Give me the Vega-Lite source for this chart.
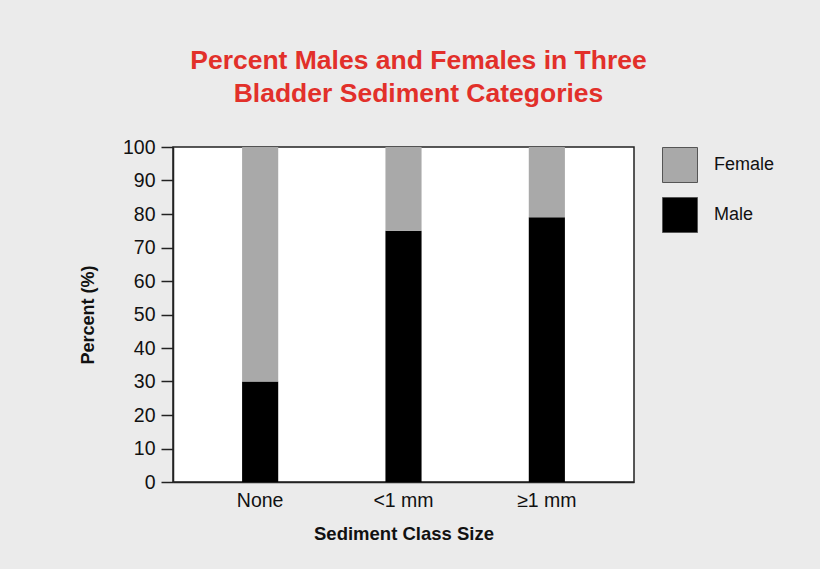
{
  "$schema": "https://vega.github.io/schema/vega-lite/v6.json",
  "width": 461,
  "height": 335,
  "autosize": {"type": "none"},
  "padding": {"left": 173, "top": 147, "right": 186, "bottom": 87},
  "background": "#ebebeb",
  "title": {
    "text": ["Percent Males and Females in Three", "Bladder Sediment Categories"],
    "font": "Liberation Sans",
    "fontSize": 26.5,
    "fontWeight": "bold",
    "color": "#e2302a",
    "lineHeight": 33,
    "anchor": "middle",
    "dx": 15,
    "offset": 30
  },
  "config": {
    "font": "Liberation Sans",
    "view": {"stroke": "#222", "strokeWidth": 1.5, "fill": "white"}
  },
  "data": {
    "values": [
      {"size": "None", "sex": "Male", "percent": 30},
      {"size": "None", "sex": "Female", "percent": 70},
      {"size": "<1 mm", "sex": "Male", "percent": 75},
      {"size": "<1 mm", "sex": "Female", "percent": 25},
      {"size": "≥1 mm", "sex": "Male", "percent": 79},
      {"size": "≥1 mm", "sex": "Female", "percent": 21}
    ]
  },
  "mark": {"type": "bar"},
  "encoding": {
    "x": {
      "field": "size",
      "type": "nominal",
      "sort": ["None", "<1 mm", "≥1 mm"],
      "scale": {"paddingInner": 0.748, "paddingOuter": 0.482},
      "axis": {
        "title": "Sediment Class Size",
        "labelAngle": 0,
        "labelFontSize": 19.5,
        "labelColor": "#111",
        "labelPadding": 9,
        "ticks": false,
        "domainColor": "#222",
        "domainWidth": 1.5,
        "titleFontSize": 18.5,
        "titleFontWeight": "bold",
        "titleColor": "#111",
        "titlePadding": 15
      }
    },
    "y": {
      "field": "percent",
      "type": "quantitative",
      "stack": "zero",
      "scale": {"domain": [0, 100], "nice": false},
      "axis": {
        "title": "Percent (%)",
        "values": [0, 10, 20, 30, 40, 50, 60, 70, 80, 90, 100],
        "grid": false,
        "labelFontSize": 19.5,
        "labelColor": "#111",
        "labelPadding": 6,
        "tickSize": 12,
        "tickColor": "#222",
        "tickWidth": 1.5,
        "domainColor": "#222",
        "domainWidth": 1.5,
        "titleFontSize": 18,
        "titleFontWeight": "bold",
        "titleColor": "#111",
        "titlePadding": 25
      }
    },
    "color": {
      "field": "sex",
      "type": "nominal",
      "scale": {"domain": ["Female", "Male"], "range": ["#a9a9a9", "#000000"]},
      "legend": {
        "title": null,
        "orient": "right",
        "offset": 28,
        "symbolType": "square",
        "symbolSize": 1225,
        "symbolStrokeColor": "#555",
        "symbolStrokeWidth": 1,
        "symbolOpacity": 1,
        "labelFontSize": 18,
        "labelColor": "#111",
        "labelOffset": 16,
        "rowPadding": 10
      }
    },
    "order": {"field": "sex", "sort": "descending"}
  }
}
